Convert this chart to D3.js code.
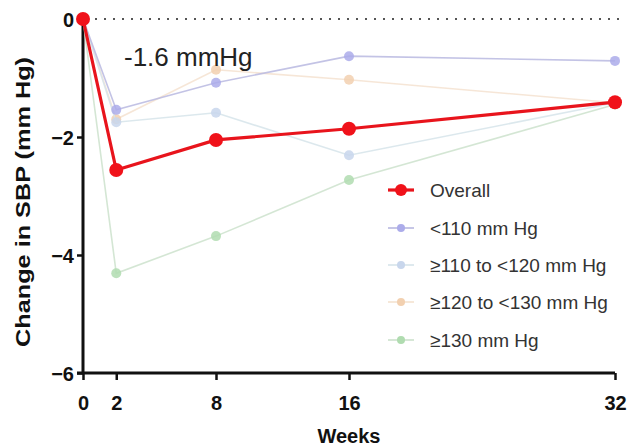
<!DOCTYPE html>
<html>
<head>
<meta charset="utf-8">
<script src="https://cdn.jsdelivr.net/npm/d3@7"></script>
<style>
  body { margin: 0; background: #fff; }
  text { font-family: "Liberation Sans", Arial, sans-serif; }
</style>
</head>
<body>
<div id="chart"></div>
<script>
'use strict';

var weeks = [0, 2, 8, 16, 32];
var yTicks = [0, -2, -4, -6];

var overall = [0, -2.56, -2.05, -1.86, -1.41];
var below110 = [0, -1.54, -1.08, -0.63, -0.71];
var from110to120 = [0, -1.75, -1.59, -2.31, -1.42];
var from120to130 = [0, -1.70, -0.86, -1.03, -1.42];
var above130 = [0, -4.31, -3.68, -2.73, -1.45];

var seriesNames = ['Overall', '<110 mm Hg', '\u2265110 to <120 mm Hg', '\u2265120 to <130 mm Hg', '\u2265130 mm Hg'];
var seriesValues = [overall, below110, from110to120, from120to130, above130];

var width = 631, height = 446;

var svg = d3.select('#chart')
            .append('svg')
            .attr('width', width)
            .attr('height', height);

var x = d3.scaleLinear().domain([0, 32]).range([83, 615]);
var y = d3.scaleLinear().domain([0, -6]).range([19, 373]);

var styles = [
  { line: '#e8141c', dot: '#f0121a', lw: 3.2, r: 7, op: 1 },
  { line: '#b8b8e0', dot: '#acacea', lw: 1.6, r: 5, op: 0.85 },
  { line: '#d6e4ea', dot: '#c8d6ec', lw: 1.6, r: 5, op: 0.85 },
  { line: '#f4e2d0', dot: '#f2d0b0', lw: 1.6, r: 5, op: 0.85 },
  { line: '#cce2cc', dot: '#b0dcb0', lw: 1.6, r: 5, op: 0.85 }
];

// zero reference line
svg.append('line')
   .attr('x1', x(0) + 12)
   .attr('x2', 620)
   .attr('y1', y(0))
   .attr('y2', y(0))
   .attr('stroke', '#555')
   .attr('stroke-width', 2)
   .attr('stroke-dasharray', '2,7');

// axes
var yAxis = svg.append('g')
   .attr('transform', 'translate(' + x(0) + ',0)')
   .call(d3.axisLeft(y).tickValues(yTicks).tickSize(6).tickPadding(3).tickFormat(d3.format('d')));

var xAxis = svg.append('g')
   .attr('transform', 'translate(0,' + y(-6) + ')')
   .call(d3.axisBottom(x).tickValues(weeks).tickSize(7).tickPadding(14));

[yAxis, xAxis].forEach(function(g) {
  g.select('.domain').attr('stroke', '#111').attr('stroke-width', 3);
  g.selectAll('.tick line').attr('stroke', '#111').attr('stroke-width', 2.5);
  g.selectAll('.tick text')
   .attr('fill', '#111')
   .style('font-size', '20px')
   .style('font-weight', 'bold')
   .style('font-family', '"Liberation Sans", Arial, sans-serif');
});
yAxis.select('.domain').attr('d', 'M0,' + y(0) + 'V' + y(-6));
xAxis.select('.domain').attr('d', 'M' + (x(0) - 6) + ',0H' + x(32));
xAxis.selectAll('.tick text').attr('dy', '0.8em');
yAxis.selectAll('.tick text').attr('dy', '0.36em');

// series, drawn back to front so Overall sits on top
var line = d3.line()
             .x(function(d, i) { return x(weeks[i]); })
             .y(function(d) { return y(d); });

for (var s = seriesValues.length - 1; s >= 0; s--) {
  var st = styles[s];
  svg.append('path')
     .datum(seriesValues[s])
     .attr('d', line)
     .attr('fill', 'none')
     .attr('stroke', st.line)
     .attr('stroke-width', st.lw)
     .attr('stroke-opacity', st.op);
  svg.selectAll('.dot' + s)
     .data(seriesValues[s].slice(1))
     .enter()
     .append('circle')
     .attr('cx', function(d, i) { return x(weeks[i + 1]); })
     .attr('cy', function(d) { return y(d); })
     .attr('r', st.r)
     .attr('fill', st.dot)
     .attr('fill-opacity', st.op);
}

// shared origin point
svg.append('circle')
   .attr('cx', x(0))
   .attr('cy', y(overall[0]))
   .attr('r', 7)
   .attr('fill', '#f0121a');

// annotation
svg.append('text')
   .attr('x', 124)
   .attr('y', 66)
   .attr('fill', '#222')
   .style('font-size', '26px')
   .text('-1.6 mmHg');

// axis titles
svg.append('text')
   .attr('transform', 'translate(30,202) rotate(-90)')
   .attr('text-anchor', 'middle')
   .attr('fill', '#111')
   .attr('textLength', 290)
   .attr('lengthAdjust', 'spacingAndGlyphs')
   .style('font-size', '20px')
   .style('font-weight', 'bold')
   .text('Change in SBP (mm Hg)');

svg.append('text')
   .attr('x', 349)
   .attr('y', 443)
   .attr('text-anchor', 'middle')
   .attr('fill', '#111')
   .style('font-size', '20px')
   .style('font-weight', 'bold')
   .text('Weeks');

// legend
var legendY = [190, 228, 265, 302, 340];
var legend = svg.selectAll('.legend')
   .data(seriesNames)
   .enter()
   .append('g')
   .attr('transform', function(d, i) { return 'translate(401,' + legendY[i] + ')'; });

legend.append('line')
   .attr('x1', -13).attr('x2', 13)
   .attr('stroke', function(d, i) { return styles[i].line; })
   .attr('stroke-width', function(d, i) { return styles[i].lw; });

legend.append('circle')
   .attr('r', function(d, i) { return i === 0 ? 6 : 4; })
   .attr('fill', function(d, i) { return styles[i].dot; });

legend.append('text')
   .attr('x', 29)
   .attr('dy', '0.35em')
   .attr('fill', '#333')
   .style('font-size', '19px')
   .text(function(d) { return d; });
</script>
</body>
</html>
